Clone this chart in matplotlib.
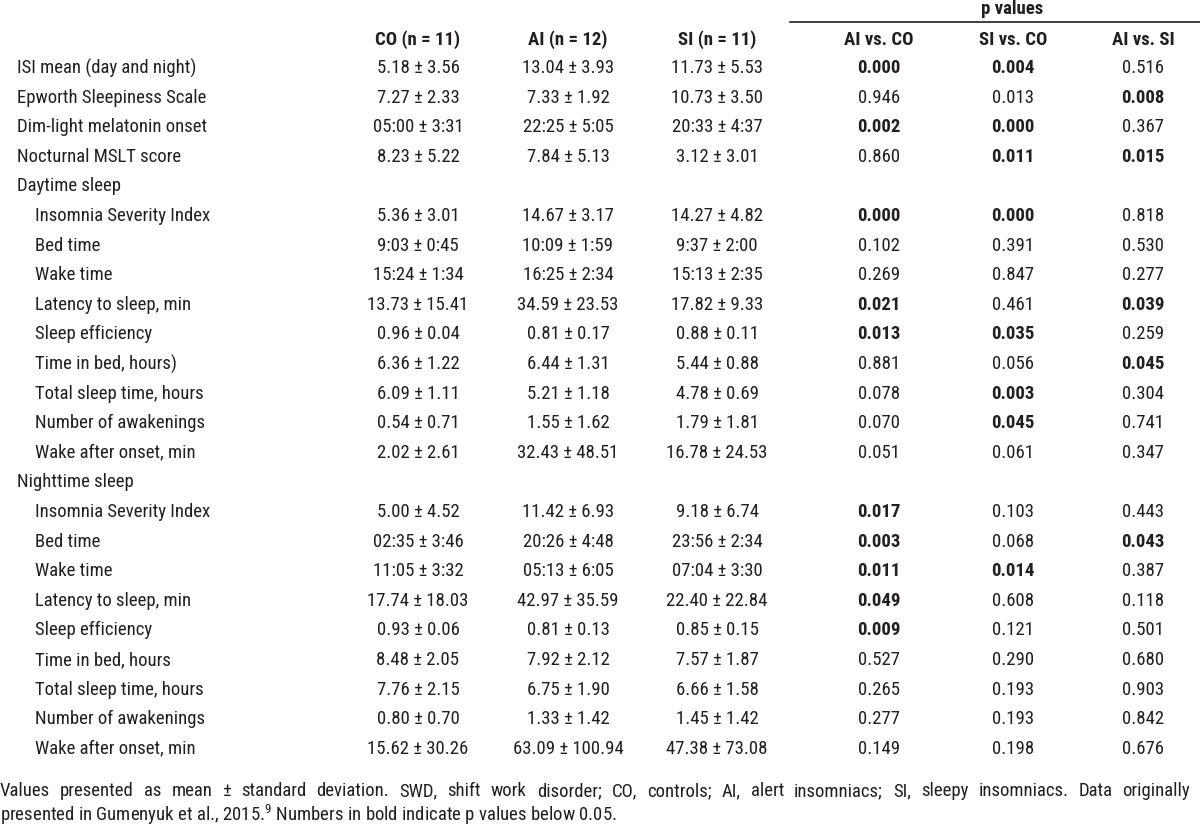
import matplotlib
matplotlib.use("Agg")
import matplotlib.pyplot as plt
from matplotlib import font_manager

# ---------------- data ----------------
row_labels = [
    "ISI mean (day and night)", "Epworth Sleepiness Scale", "Dim-light melatonin onset",
    "Nocturnal MSLT score", "Daytime sleep",
    "Insomnia Severity Index", "Bed time", "Wake time", "Latency to sleep, min",
    "Sleep efficiency", "Time in bed, hours)", "Total sleep time, hours",
    "Number of awakenings", "Wake after onset, min", "Nighttime sleep",
    "Insomnia Severity Index", "Bed time", "Wake time", "Latency to sleep, min",
    "Sleep efficiency", "Time in bed, hours", "Total sleep time, hours",
    "Number of awakenings", "Wake after onset, min",
]
indented = [False] * 5 + [True] * 9 + [False] + [True] * 9

co_vals = ["5.18 ± 3.56", "7.27 ± 2.33", "05:00 ± 3:31", "8.23 ± 5.22", "",
           "5.36 ± 3.01", "9:03 ± 0:45", "15:24 ± 1:34", "13.73 ± 15.41", "0.96 ± 0.04",
           "6.36 ± 1.22", "6.09 ± 1.11", "0.54 ± 0.71", "2.02 ± 2.61", "",
           "5.00 ± 4.52", "02:35 ± 3:46", "11:05 ± 3:32", "17.74 ± 18.03", "0.93 ± 0.06",
           "8.48 ± 2.05", "7.76 ± 2.15", "0.80 ± 0.70", "15.62 ± 30.26"]
ai_vals = ["13.04 ± 3.93", "7.33 ± 1.92", "22:25 ± 5:05", "7.84 ± 5.13", "",
           "14.67 ± 3.17", "10:09 ± 1:59", "16:25 ± 2:34", "34.59 ± 23.53", "0.81 ± 0.17",
           "6.44 ± 1.31", "5.21 ± 1.18", "1.55 ± 1.62", "32.43 ± 48.51", "",
           "11.42 ± 6.93", "20:26 ± 4:48", "05:13 ± 6:05", "42.97 ± 35.59", "0.81 ± 0.13",
           "7.92 ± 2.12", "6.75 ± 1.90", "1.33 ± 1.42", "63.09 ± 100.94"]
si_vals = ["11.73 ± 5.53", "10.73 ± 3.50", "20:33 ± 4:37", "3.12 ± 3.01", "",
           "14.27 ± 4.82", "9:37 ± 2:00", "15:13 ± 2:35", "17.82 ± 9.33", "0.88 ± 0.11",
           "5.44 ± 0.88", "4.78 ± 0.69", "1.79 ± 1.81", "16.78 ± 24.53", "",
           "9.18 ± 6.74", "23:56 ± 2:34", "07:04 ± 3:30", "22.40 ± 22.84", "0.85 ± 0.15",
           "7.57 ± 1.87", "6.66 ± 1.58", "1.45 ± 1.42", "47.38 ± 73.08"]
p_ai_co = ["0.000", "0.946", "0.002", "0.860", "",
           "0.000", "0.102", "0.269", "0.021", "0.013", "0.881", "0.078", "0.070", "0.051", "",
           "0.017", "0.003", "0.011", "0.049", "0.009", "0.527", "0.265", "0.277", "0.149"]
p_si_co = ["0.004", "0.013", "0.000", "0.011", "",
           "0.000", "0.391", "0.847", "0.461", "0.035", "0.056", "0.003", "0.045", "0.061", "",
           "0.103", "0.068", "0.014", "0.608", "0.121", "0.290", "0.193", "0.193", "0.198"]
p_ai_si = ["0.516", "0.008", "0.367", "0.015", "",
           "0.818", "0.530", "0.277", "0.039", "0.259", "0.045", "0.304", "0.741", "0.347", "",
           "0.443", "0.043", "0.387", "0.118", "0.501", "0.680", "0.903", "0.842", "0.676"]
bold_ai_co = [1, 0, 1, 0, 0, 1, 0, 0, 1, 1, 0, 0, 0, 0, 0, 1, 1, 1, 1, 1, 0, 0, 0, 0]
bold_si_co = [1, 0, 1, 1, 0, 1, 0, 0, 0, 1, 0, 1, 1, 0, 0, 0, 0, 1, 0, 0, 0, 0, 0, 0]
bold_ai_si = [0, 1, 0, 1, 0, 0, 0, 0, 1, 0, 1, 0, 0, 0, 0, 0, 1, 0, 0, 0, 0, 0, 0, 0]

group_headers = ["CO (n = 11)", "AI (n = 12)", "SI (n = 11)"]
p_headers = ["AI vs. CO", "SI vs. CO", "AI vs. SI"]
p_title = "p values"
footnote = ["Values presented as mean ± standard deviation. SWD, shift work disorder; CO, controls; "
            "AI, alert insomniacs; SI, sleepy insomniacs. Data originally",
            "presented in Gumenyuk et al., 2015.$^{\\mathregular{9}}$ Numbers in bold indicate p values below 0.05."]

# ---------------- style ----------------
avail = {f.name for f in font_manager.fontManager.ttflist}
fam = [f for f in ["Roboto Condensed", "Archivo Narrow", "Liberation Sans", "DejaVu Sans"] if f in avail]
plt.rcParams["font.family"] = fam
plt.rcParams["mathtext.fontset"] = "custom"
plt.rcParams["mathtext.rm"] = fam[0]
color = "#231f20"
fs = 13.5

fig = plt.figure(figsize=(12, 8.32), dpi=100)
ax = fig.add_axes([0, 0, 1, 1])
ax.set_xlim(0, 1200)
ax.set_ylim(832, 0)
ax.axis("off")

col_x = [418, 568, 717]
p_x = [879, 1013, 1143]
y0, dy = 68, 29.6

ax.text(1012, 9, p_title, ha="center", va="center", fontsize=fs, fontweight="bold", color=color)
ax.plot([790, 1200], [22, 22], color=color, lw=1.2)
for x, h in zip(col_x, group_headers):
    ax.text(x, 40, h, ha="center", va="center", fontsize=fs, fontweight="bold", color=color)
for x, h in zip(p_x, p_headers):
    ax.text(x, 40, h, ha="center", va="center", fontsize=fs, fontweight="bold", color=color)

for i, lab in enumerate(row_labels):
    y = y0 + i * dy
    ax.text(35 if indented[i] else 17, y, lab, ha="left", va="center", fontsize=fs, color=color)
    for x, col in zip(col_x, [co_vals, ai_vals, si_vals]):
        if col[i]:
            ax.text(x, y, col[i], ha="center", va="center", fontsize=fs, color=color)
    for x, col, bcol in zip(p_x, [p_ai_co, p_si_co, p_ai_si], [bold_ai_co, bold_si_co, bold_ai_si]):
        if col[i]:
            ax.text(x, y, col[i], ha="center", va="center", fontsize=fs, color=color,
                    fontweight="bold" if bcol[i] else "normal")

# justified first footnote line (left 0, right 1190 px)
fig.canvas.draw()
renderer = fig.canvas.get_renderer()
words = footnote[0].split(" ")
texts = [ax.text(0, 791, w, ha="left", va="center", fontsize=fs, color=color) for w in words]
widths = [t.get_window_extent(renderer).width for t in texts]
gap = (1190 - sum(widths)) / (len(words) - 1)
x = 0.0
for t, w in zip(texts, widths):
    t.set_x(x)
    x += w + gap
ax.text(0, 815, footnote[1], ha="left", va="center", fontsize=fs, color=color)

fig.savefig("out.png", dpi=100)
